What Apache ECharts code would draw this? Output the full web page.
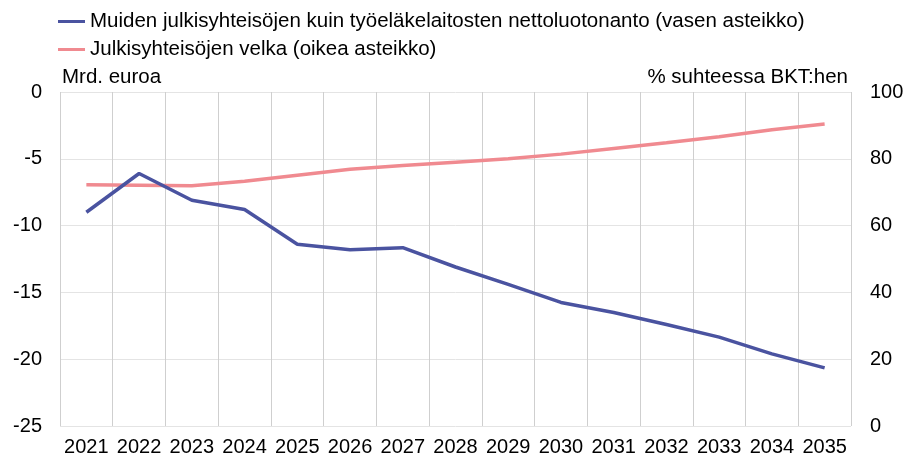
<!DOCTYPE html>
<html>
<head>
<meta charset="utf-8">
<script src="https://cdn.jsdelivr.net/npm/echarts@6/dist/echarts.min.js"></script>
<style>
  html, body { margin: 0; padding: 0; background: #fff; }
  #chart { width: 907px; height: 464px; }
</style>
</head>
<body>
<div id="chart"></div>
<script>
const years = ['2021', '2022', '2023', '2024', '2025', '2026', '2027', '2028',
  '2029', '2030', '2031', '2032', '2033', '2034', '2035']
// Mrd. euroa (vasen asteikko)
const nettoluotonanto = [-9.0, -6.1, -8.1, -8.8, -11.4, -11.8, -11.65, -13.1,
  -14.4, -15.75, -16.5, -17.4, -18.35, -19.6, -20.65]
// % suhteessa BKT:hen (oikea asteikko)
const velka = [72.2, 72.1, 71.9, 73.3, 75.1, 76.9, 78.0, 79.0,
  80.0, 81.4, 83.1, 84.8, 86.6, 88.7, 90.4]

const font = '"Liberation Sans", Arial, sans-serif'
const chartDom = document.getElementById('chart')
const myChart = echarts.init(chartDom)

const option = {
  animation: false,
  textStyle: { fontFamily: font },
  legend: {
    orient: 'vertical',
    left: 53,
    top: 6,
    itemWidth: 27,
    itemHeight: 3,
    itemGap: 7,
    icon: 'rect',
    textStyle: { fontFamily: font, fontSize: 20.5, color: '#000' },
    data: [
      'Muiden julkisyhteisöjen kuin työeläkelaitosten nettoluotonanto (vasen asteikko)',
      'Julkisyhteisöjen velka (oikea asteikko)'
    ]
  },
  grid: { left: 60, right: 56, top: 92, bottom: 38, containLabel: false },
  xAxis: {
    type: 'category',
    data: years,
    boundaryGap: true,
    axisLine: { show: false },
    axisTick: { show: false },
    axisLabel: { color: '#000', fontSize: 20, fontFamily: font, margin: 11, interval: 0 },
    splitLine: { show: true, lineStyle: { color: '#cfcfcf', width: 1 } }
  },
  yAxis: [
    {
      type: 'value',
      min: -25,
      max: 0,
      interval: 5,
      name: 'Mrd. euroa',
      nameLocation: 'end',
      nameGap: 4,
      nameTextStyle: { color: '#000', fontSize: 20.5, fontFamily: font, align: 'left', padding: [0, 0, 0, 2] },
      axisLine: { show: false },
      axisTick: { show: false },
      axisLabel: { color: '#000', fontSize: 20, fontFamily: font, margin: 18 },
      splitLine: { lineStyle: { color: '#e4e4e4', width: 1 } }
    },
    {
      type: 'value',
      min: 0,
      max: 100,
      interval: 20,
      position: 'right',
      name: '% suhteessa BKT:hen',
      nameLocation: 'end',
      nameGap: 4,
      nameTextStyle: { color: '#000', fontSize: 20.5, fontFamily: font, align: 'right', padding: [0, 3, 0, 0] },
      axisLine: { show: false },
      axisTick: { show: false },
      axisLabel: { color: '#000', fontSize: 20, fontFamily: font, margin: 19 },
      splitLine: { show: false }
    }
  ],
  series: [
    {
      name: 'Muiden julkisyhteisöjen kuin työeläkelaitosten nettoluotonanto (vasen asteikko)',
      type: 'line',
      yAxisIndex: 0,
      data: nettoluotonanto,
      symbol: 'none',
      z: 3,
      lineStyle: { color: '#4a53a0', width: 3.5 },
      itemStyle: { color: '#4a53a0' }
    },
    {
      name: 'Julkisyhteisöjen velka (oikea asteikko)',
      type: 'line',
      yAxisIndex: 1,
      data: velka,
      symbol: 'none',
      z: 2,
      lineStyle: { color: '#f08a90', width: 3.5 },
      itemStyle: { color: '#f08a90' }
    }
  ]
}
option && myChart.setOption(option)
</script>
</body>
</html>
